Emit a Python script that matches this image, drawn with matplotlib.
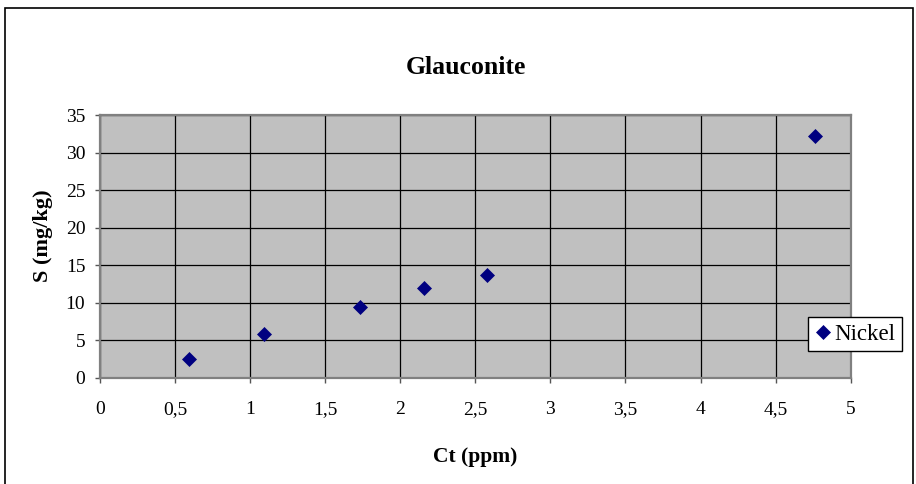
import matplotlib
matplotlib.use("Agg")
import matplotlib.pyplot as plt
from matplotlib.patches import Rectangle
from matplotlib.ticker import FuncFormatter, MultipleLocator

# data
ct_ppm = [0.59, 1.09, 1.73, 2.16, 2.58, 4.76]
s_mgkg = [2.5, 5.8, 9.4, 11.9, 13.7, 32.2]
series_name = "Nickel"
title = "Glauconite"
x_label = "Ct (ppm)"
y_label = "S (mg/kg)"

W, H = 916, 484
plt.rcParams["font.family"] = ["Liberation Serif", "DejaVu Serif"]

fig = plt.figure(figsize=(W / 100, H / 100), dpi=100)
fig.patch.set_facecolor("white")

# outer chart border (bottom edge falls outside the picture)
fig.add_artist(Rectangle((5 / W, -0.1), 908 / W, 1.1 - 8 / H,
                         transform=fig.transFigure, fill=False,
                         edgecolor="black", linewidth=1.2))

ax = fig.add_axes([100 / W, (H - 377.7) / H, 750.7 / W, 262.4 / H])
ax.set_facecolor("#c0c0c0")
ax.set_xlim(0, 5)
ax.set_ylim(0, 35)
ax.xaxis.set_major_locator(MultipleLocator(0.5))
ax.yaxis.set_major_locator(MultipleLocator(5))
fmt = FuncFormatter(lambda v, pos: ("%g" % v).replace(".", ","))
ax.xaxis.set_major_formatter(fmt)
ax.yaxis.set_major_formatter(fmt)
ax.grid(True, color="black", linewidth=0.9)
ax.set_axisbelow(True)
for sp in ax.spines.values():
    sp.set_color("#808080")
    sp.set_linewidth(1.6)
ax.tick_params(axis="both", direction="out", length=3.6, width=1,
               color="#555555", labelsize=14, labelcolor="black")
ax.tick_params(axis="x", pad=13)
ax.tick_params(axis="y", pad=7)

ax.plot(ct_ppm, s_mgkg, linestyle="none", marker="D", markersize=7.3,
        color="#000080", markeredgecolor="#000080", markeredgewidth=0.5,
        label=series_name, zorder=3)

fig.text(466 / W, 1 - 67 / H, title, ha="center", va="center",
         fontsize=18.5, fontweight="bold")
fig.text(475 / W, 1 - 457 / H, x_label, ha="center", va="center",
         fontsize=15.5, fontweight="bold")
fig.text(43 / W, 1 - 236 / H, y_label, ha="center", va="center",
         fontsize=16, fontweight="bold", rotation=90)

leg = ax.legend(loc="center", bbox_to_anchor=(855 / W, 1 - 334 / H),
                bbox_transform=fig.transFigure, fontsize=16.5,
                frameon=True, fancybox=False, framealpha=1,
                edgecolor="black", borderpad=0.3, handlelength=0.7,
                handletextpad=0.15, borderaxespad=0)
leg.get_frame().set_linewidth(1)

fig.savefig("out.png", dpi=100)
